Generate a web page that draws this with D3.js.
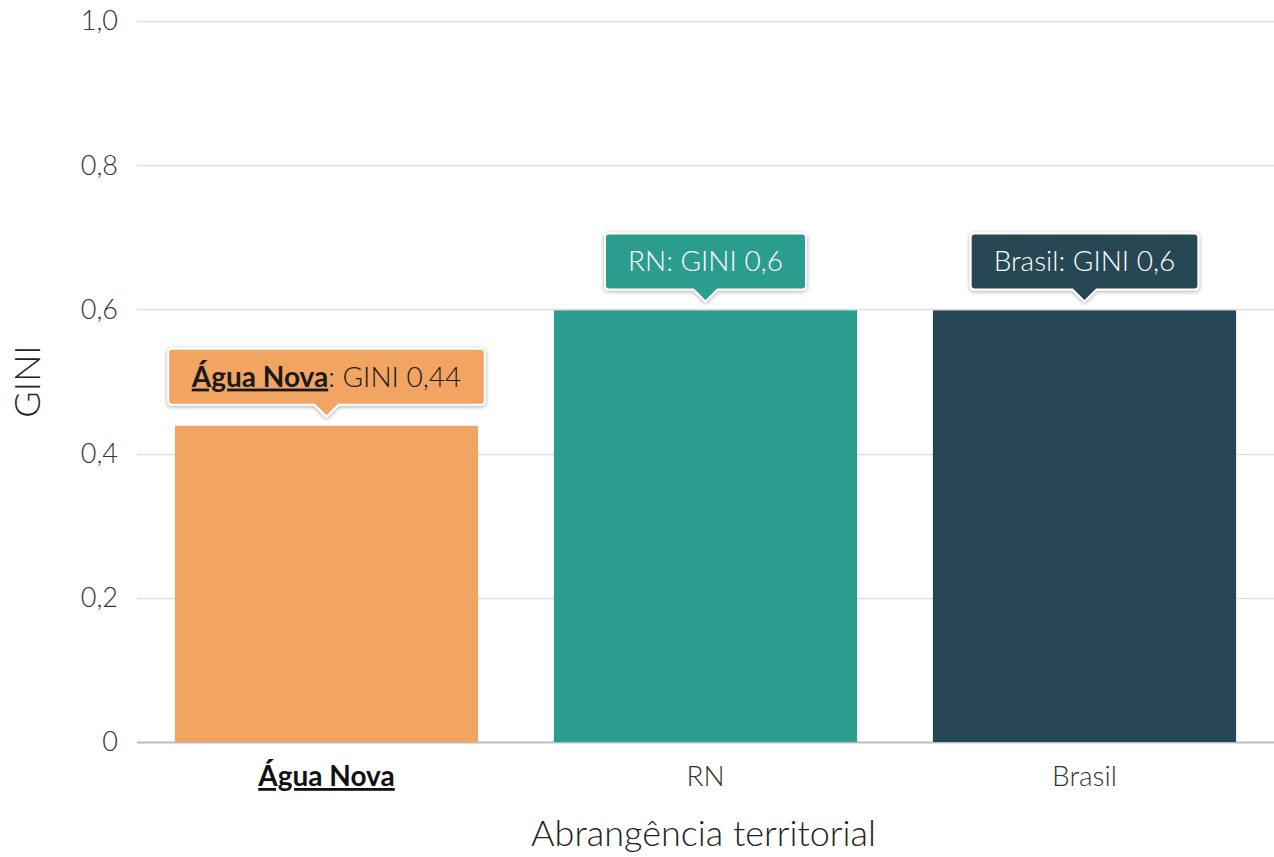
<!DOCTYPE html>
<html>
<head>
<meta charset="utf-8">
<script src="https://cdn.jsdelivr.net/npm/d3@7"></script>
<style>
  body { margin: 0; background: #fff; }
  svg { font-family: "Lato Light", Lato, sans-serif; }
</style>
</head>
<body>
<div id="chart"></div>
<script>
// Data
const categories = ["Água Nova", "RN", "Brasil"];
const giniValues = [0.44, 0.6, 0.6];
const barColors = ["#f2a462", "#2a9d8f", "#264653"];
const labelColors = ["#1a1a1a", "#ffffff", "#ffffff"];
const highlighted = "Água Nova";
const yTicks = [0, 0.2, 0.4, 0.6, 0.8, 1.0];

const width = 1274, height = 857;
const margin = { top: 21, right: 0, bottom: 115, left: 137 };

const svg = d3.select("#chart").append("svg")
    .attr("width", width)
    .attr("height", height);

const defs = svg.append("defs");
const shadow = defs.append("filter").attr("id", "shadow")
    .attr("x", "-10%").attr("y", "-20%").attr("width", "120%").attr("height", "150%");
shadow.append("feDropShadow")
    .attr("dx", 0).attr("dy", 1).attr("stdDeviation", 2)
    .attr("flood-color", "#000").attr("flood-opacity", 0.35);

const x = d3.scaleBand()
    .domain(categories)
    .range([margin.left, width - margin.right])
    .paddingInner(0.2)
    .paddingOuter(0.1);

const y = d3.scaleLinear()
    .domain([0, 1])
    .range([height - margin.bottom, margin.top]);

const fmt = v => v === 0 ? "0" : d3.format(".1f")(v).replace(".", ",");

// Gridlines
svg.append("g")
    .selectAll("line")
    .data(yTicks)
    .enter().append("line")
    .attr("x1", margin.left)
    .attr("x2", width - margin.right)
    .attr("y1", d => Math.round(y(d)) + 0.5)
    .attr("y2", d => Math.round(y(d)) + 0.5)
    .attr("stroke", d => d === 0 ? "#bdbdbd" : "#dedede")
    .attr("stroke-width", d => d === 0 ? 2 : 1.5);

// Y tick labels
svg.append("g")
    .selectAll("text")
    .data(yTicks)
    .enter().append("text")
    .attr("x", 118)
    .attr("y", d => y(d))
    .attr("dy", "0.35em")
    .attr("text-anchor", "end")
    .style("font-size", "27px")
    .style("font-weight", 300)
    .style("fill", "#333")
    .text(fmt);

// Bars
const data = categories.map((c, i) => ({ name: c, value: giniValues[i], color: barColors[i], textColor: labelColors[i] }));

svg.append("g")
    .selectAll("rect")
    .data(data)
    .enter().append("rect")
    .attr("x", d => x(d.name))
    .attr("y", d => y(d.value) + 1)
    .attr("width", x.bandwidth())
    .attr("height", d => y(0) - y(d.value) - 1)
    .attr("fill", d => d.color);

// X tick labels
svg.append("g")
    .selectAll("text")
    .data(data)
    .enter().append("text")
    .attr("x", d => x(d.name) + x.bandwidth() / 2)
    .attr("y", 786)
    .attr("text-anchor", "middle")
    .style("font-size", "28px")
    .style("font-weight", d => d.name === highlighted ? 700 : 300)
    .style("font-family", d => d.name === highlighted ? "Lato, sans-serif" : null)
    .style("text-decoration", d => d.name === highlighted ? "underline" : "none")
    .style("fill", d => d.name === highlighted ? "#111" : "#333")
    .text(d => d.name);

// Axis titles
svg.append("text")
    .attr("x", margin.left + (width - margin.left - margin.right) / 2 - 2)
    .attr("y", 846)
    .attr("text-anchor", "middle")
    .style("font-size", "36px")
    .style("font-weight", 300)
    .style("fill", "#222")
    .text("Abrangência territorial");

svg.append("text")
    .attr("transform", `translate(40, ${y(0.5)}) rotate(-90)`)
    .attr("text-anchor", "middle")
    .style("font-size", "36px")
    .style("font-weight", 300)
    .style("fill", "#222")
    .text("GINI");

// Tooltips
const tips = svg.append("g")
    .selectAll("g")
    .data(data)
    .enter().append("g")
    .attr("transform", d => `translate(${x(d.name) + x.bandwidth() / 2}, ${y(d.value) - 8})`);

tips.each(function(d) {
    const g = d3.select(this);
    const text = g.append("text")
        .attr("text-anchor", "middle")
        .style("font-size", "28px")
        .style("font-weight", 300)
        .style("fill", d.textColor);
    if (d.name === highlighted) {
        text.append("tspan")
            .style("font-weight", 700)
            .style("font-family", "Lato, sans-serif")
            .style("text-decoration", "underline")
            .text(d.name);
        text.append("tspan").text(": GINI " + String(d.value).replace(".", ","));
    } else {
        text.text(d.name + ": GINI " + String(d.value).replace(".", ","));
    }
    const bb = text.node().getBBox();
    const w = bb.width + 46, h = 56, r = 4, p = 12;
    const top = -p - h, left = -w / 2;
    const path = `M${left + r},${top} H${-left - r} Q${-left},${top} ${-left},${top + r}
        V${-p - r} Q${-left},${-p} ${-left - r},${-p} H${p} L0,0 L${-p},${-p}
        H${left + r} Q${left},${-p} ${left},${-p - r} V${top + r} Q${left},${top} ${left + r},${top} Z`;
    g.insert("path", "text")
        .attr("d", path)
        .attr("fill", d.color)
        .attr("stroke", "#fff")
        .attr("stroke-width", 2)
        .attr("filter", "url(#shadow)");
    text.attr("y", top + h / 2).attr("dy", "0.35em");
});
</script>
</body>
</html>
